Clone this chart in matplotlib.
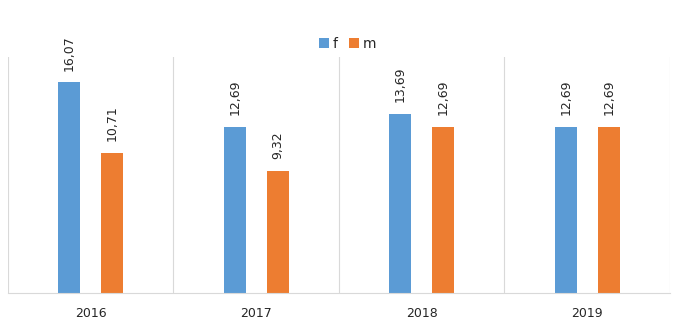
import numpy as np
import matplotlib
matplotlib.use("Agg")
import matplotlib.pyplot as plt

years = ["2016", "2017", "2018", "2019"]
f_vals = [16.07, 12.69, 13.69, 12.69]
m_vals = [10.71, 9.32, 12.69, 12.69]

blue = "#5b9bd5"
orange = "#ed7d31"
grid_c = "#d9d9d9"
text_c = "#262626"

fig = plt.figure(figsize=(6.82, 3.26), dpi=100)
ax = fig.add_axes([0.0117, 0.101, 0.9707, 0.724])

x = np.arange(len(years))
w = 0.133
off = 0.13
b1 = ax.bar(x - off, f_vals, w, color=blue, label="f")
b2 = ax.bar(x + off, m_vals, w, color=orange, label="m")

for bars, vals in ((b1, f_vals), (b2, m_vals)):
    for b, v in zip(bars, vals):
        ax.annotate(f"{v:.2f}".replace(".", ","),
                    (b.get_x() + b.get_width() / 2, b.get_height()),
                    xytext=(0, 8.5), textcoords="offset points",
                    rotation=90, ha="center", va="bottom",
                    fontsize=9, color=text_c, annotation_clip=False)

ax.set_xlim(-0.5, len(years) - 0.5)
ax.set_ylim(0, 18)
ax.set_xticks(x)
ax.set_xticklabels(years, fontsize=9, color=text_c)
ax.set_xticks(np.arange(-0.5, len(years)), minor=True)
ax.tick_params(axis="x", which="both", length=0, pad=10)
ax.grid(axis="x", which="minor", color=grid_c, linewidth=0.8)
ax.set_yticks([])
for s in ("top", "left", "right"):
    ax.spines[s].set_visible(False)
ax.spines["bottom"].set_color(grid_c)
ax.set_axisbelow(True)

fig.legend(loc="center", bbox_to_anchor=(0.51, 0.865), ncol=2, frameon=False,
           fontsize=10, handlelength=0.7, handleheight=0.7, handletextpad=0.3,
           columnspacing=0.8, labelcolor=text_c)

fig.savefig("out.png", dpi=100)
